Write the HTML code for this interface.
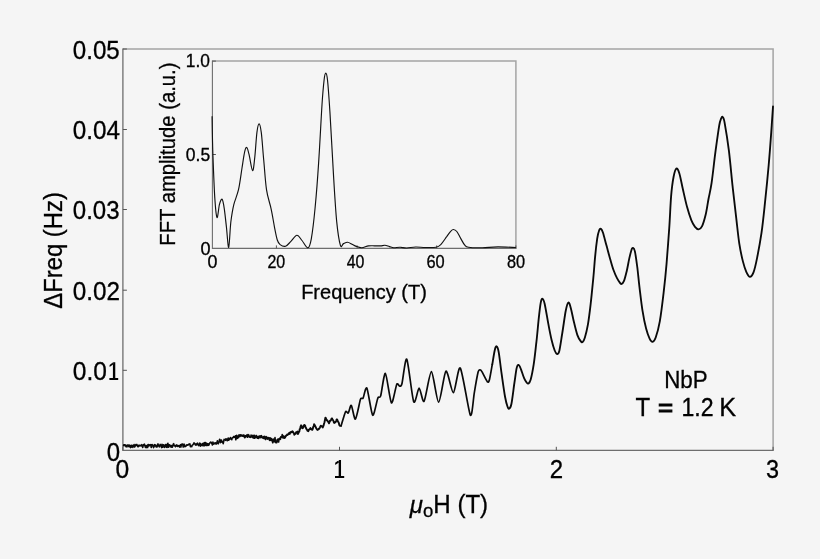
<!DOCTYPE html>
<html><head><meta charset="utf-8"><title>NbP</title>
<style>
html,body{margin:0;padding:0;background:#f5f5f5;}
body{width:820px;height:559px;overflow:hidden;font-family:"Liberation Sans",sans-serif;}
svg{display:block;will-change:transform;opacity:0.999}
text{font-family:"Liberation Sans",sans-serif;fill:#000;stroke:#000;stroke-width:0.3px;}
</style></head><body>
<svg width="820" height="559" viewBox="0 0 820 559">
<rect width="820" height="559" fill="#f5f5f5"/>
<!-- main frame -->
<path d="M122.9,49.0H773.1V450.4" fill="none" stroke="#a4a4a4" stroke-width="1.5"/>
<path d="M122.9,48.5V450.4H773.6" fill="none" stroke="#6e6e6e" stroke-width="1.3"/>
<g stroke="#555" stroke-width="1" fill="none">
<path d="M122.9,49h4M122.9,129.5h4M122.9,209.5h4M122.9,290.2h4M122.9,370.3h4"/>
<path d="M339.5,450.4v-3.6M556.3,450.4v-3.6M773.1,450.4v-3.6M122.9,450.4v-3.6"/>
</g>
<!-- inset frame -->
<path d="M212.4,61.1H515.9V248.4" fill="none" stroke="#a4a4a4" stroke-width="1.5"/>
<path d="M212.4,60.6V248.4H516.4" fill="none" stroke="#6e6e6e" stroke-width="1.1"/>
<g stroke="#555" stroke-width="1" fill="none">
<path d="M212.4,154.5h3.5M212.4,61.1h3.5M276.4,248.4v-3M357.1,248.4v-3M436.7,248.4v-3M515.9,248.4v-3"/>
</g>
<!-- curves -->
<path d="M122.9,445.7 L123.4,445.7 L123.8,444.8 L124.3,444.7 L124.7,444.8 L125.2,446.0 L125.6,445.0 L126.1,446.7 L126.5,446.5 L127.0,446.8 L127.4,445.0 L127.9,445.5 L128.3,445.1 L128.8,446.6 L129.2,445.0 L129.7,446.1 L130.1,447.1 L130.5,447.6 L131.0,445.3 L131.4,447.1 L131.9,445.4 L132.3,445.5 L132.8,447.4 L133.2,445.5 L133.7,445.8 L134.1,444.6 L134.6,447.0 L135.0,445.5 L135.5,446.0 L135.9,444.5 L136.4,445.2 L136.8,444.5 L137.3,445.3 L137.7,446.6 L138.2,446.7 L138.6,445.4 L139.1,445.4 L139.5,445.9 L140.0,445.2 L140.4,445.6 L140.9,445.9 L141.3,445.6 L141.8,444.7 L142.2,446.1 L142.7,447.5 L143.1,445.5 L143.6,444.5 L144.0,445.4 L144.5,444.2 L144.9,445.4 L145.4,447.4 L145.8,445.9 L146.3,447.6 L146.7,445.5 L147.2,445.5 L147.6,447.5 L148.1,444.5 L148.5,444.5 L149.0,446.0 L149.4,444.9 L149.9,444.7 L150.3,445.3 L150.8,444.6 L151.2,447.5 L151.7,445.8 L152.1,444.5 L152.6,445.0 L153.0,445.6 L153.5,447.6 L153.9,447.1 L154.4,445.0 L154.8,444.7 L155.3,445.9 L155.7,445.2 L156.2,446.9 L156.6,447.0 L157.1,446.9 L157.5,444.9 L158.0,443.9 L158.4,445.7 L158.9,446.2 L159.3,446.9 L159.8,445.3 L160.2,444.4 L160.7,445.7 L161.1,445.7 L161.6,447.6 L162.0,444.4 L162.5,447.2 L162.9,446.6 L163.4,444.7 L163.8,445.2 L164.3,447.4 L164.7,445.4 L165.2,446.5 L165.6,444.5 L166.1,447.1 L166.5,444.6 L167.0,447.4 L167.4,445.2 L167.9,443.3 L168.3,447.2 L168.8,447.0 L169.2,444.8 L169.7,445.0 L170.1,446.0 L170.6,445.5 L171.0,447.1 L171.5,445.6 L171.9,447.1 L172.4,447.1 L172.8,445.8 L173.3,444.1 L173.7,443.7 L174.2,445.6 L174.6,445.9 L175.1,445.8 L175.5,446.7 L176.0,445.9 L176.4,444.9 L176.9,445.7 L177.3,446.5 L177.8,445.4 L178.2,445.6 L178.7,446.3 L179.1,445.7 L179.6,447.1 L180.0,446.8 L180.5,444.7 L180.9,447.0 L181.4,444.3 L181.8,444.2 L182.3,444.5 L182.7,444.2 L183.2,447.0 L183.6,445.0 L184.1,444.2 L184.5,446.3 L185.0,446.7 L185.4,446.0 L185.9,446.1 L186.3,445.1 L186.8,444.9 L187.2,444.9 L187.7,445.2 L188.1,445.0 L188.6,444.6 L189.0,444.0 L189.5,444.4 L189.9,443.9 L190.4,446.7 L190.8,446.1 L191.3,446.4 L191.7,446.7 L192.2,445.3 L192.6,445.1 L193.1,444.3 L193.5,444.0 L194.0,442.8 L194.4,443.6 L194.9,443.5 L195.3,444.8 L195.8,445.1 L196.2,444.1 L196.7,444.9 L197.1,443.5 L197.6,443.2 L198.0,444.1 L198.5,445.6 L198.9,444.7 L199.4,445.0 L199.8,443.0 L200.3,446.2 L200.7,443.7 L201.2,445.0 L201.6,445.0 L202.1,445.7 L202.5,443.7 L203.0,443.4 L203.4,445.6 L203.9,443.0 L204.3,445.8 L204.8,442.5 L205.2,445.4 L205.7,442.5 L206.1,443.6 L206.6,445.5 L207.0,443.6 L207.5,443.7 L207.9,445.4 L208.4,443.9 L208.8,445.3 L209.3,444.0 L209.7,442.9 L210.2,442.7 L210.6,442.1 L211.1,442.3 L211.5,443.1 L212.0,443.8 L212.4,444.9 L212.9,442.1 L213.3,444.1 L213.8,444.0 L214.2,443.0 L214.7,443.3 L215.1,443.9 L215.6,442.8 L216.0,443.3 L216.5,443.9 L216.9,442.7 L217.4,440.7 L217.8,443.3 L218.3,443.8 L218.7,442.3 L219.2,441.6 L219.6,439.2 L220.1,440.2 L220.5,442.6 L221.0,441.8 L221.4,440.1 L221.9,441.7 L222.3,442.3 L222.8,441.7 L223.2,443.7 L223.7,441.3 L224.1,439.4 L224.6,439.8 L225.0,439.8 L225.5,440.3 L225.9,438.8 L226.4,440.0 L226.8,439.2 L227.3,440.7 L227.7,439.8 L228.2,438.0 L228.6,440.2 L229.1,438.8 L229.5,439.6 L230.0,438.9 L230.4,437.5 L230.9,438.6 L231.3,439.1 L231.8,439.6 L232.2,437.9 L232.7,437.7 L233.1,437.6 L233.6,436.5 L234.0,437.1 L234.5,437.2 L234.9,437.4 L235.4,435.8 L235.8,439.8 L236.3,438.3 L236.7,435.4 L237.2,437.3 L237.6,438.3 L238.1,436.0 L238.5,437.5 L239.0,434.8 L239.4,436.0 L239.9,436.5 L240.3,434.8 L240.8,435.8 L241.2,434.9 L241.7,436.0 L242.1,436.1 L242.6,435.6 L243.0,435.0 L243.5,436.4 L243.9,435.0 L244.4,436.5 L244.8,437.7 L245.3,435.8 L245.7,436.9 L246.2,436.2 L246.6,435.0 L247.1,435.5 L247.5,437.2 L248.0,434.5 L248.4,435.8 L248.9,435.2 L249.3,437.1 L249.8,436.5 L250.2,437.0 L250.7,437.3 L251.1,435.0 L251.6,436.0 L252.0,436.2 L252.5,437.6 L252.9,435.3 L253.4,437.5 L253.8,438.2 L254.3,435.2 L254.7,438.1 L255.2,436.6 L255.6,437.7 L256.1,435.6 L256.5,435.5 L257.0,437.5 L257.4,438.2 L257.9,436.8 L258.3,438.4 L258.8,436.3 L259.2,436.2 L259.7,437.8 L260.1,435.7 L260.6,437.6 L261.0,436.4 L261.5,435.7 L261.9,437.3 L262.4,438.0 L262.8,437.5 L263.3,436.8 L263.7,438.4 L264.2,436.2 L264.6,438.4 L265.1,437.1 L265.5,439.5 L266.0,436.5 L266.4,437.9 L266.9,437.3 L267.3,439.2 L267.8,437.5 L268.2,437.9 L268.7,437.7 L269.1,439.6 L269.6,440.3 L270.0,437.7 L270.5,438.5 L270.9,440.4 L271.4,438.5 L271.8,440.7 L272.3,440.2 L272.7,442.8 L273.2,439.0 L273.6,439.4 L274.1,441.8 L274.5,441.1 L275.0,437.5 L275.4,442.1 L275.9,442.6 L276.3,441.1 L276.8,442.6 L277.2,439.5 L277.7,440.2 L278.1,439.1 L278.6,442.0 L279.0,439.7 L279.5,438.4 L279.9,438.0 L280.4,439.3 L280.8,436.7 L281.3,437.4 L281.7,437.3 L282.2,434.6 L282.6,435.4 L283.1,437.9" fill="none" stroke="#0a0a0a" stroke-width="1.6" stroke-linejoin="round"/>
<path d="M283.1,437.9 L283.5,436.1 L284.0,436.3 L284.4,438.1 L284.9,437.7 L285.3,437.0 L285.8,436.3 L286.2,435.5 L286.7,435.4 L287.1,434.6 L287.6,435.0 L288.0,434.5 L288.5,434.0 L288.9,433.1 L289.4,433.0 L289.8,433.9 L290.3,432.2 L290.7,432.4 L291.2,431.7 L291.6,432.2 L292.1,431.9 L292.5,431.3 L293.0,431.9 L293.4,432.8 L293.9,433.1 L294.3,434.8 L294.8,434.1 L295.2,433.7 L295.7,433.7 L296.1,432.2 L296.6,432.7 L297.0,432.6 L297.5,431.5 L297.9,434.1 L298.4,433.0 L298.8,431.9 L299.3,431.6 L299.7,429.1 L300.2,428.9 L300.6,426.5 L301.1,425.3 L301.5,425.8 L302.0,427.8 L302.4,428.2 L302.9,428.1 L303.3,427.4 L303.8,425.6 L304.2,425.0 L304.7,425.2 L305.1,425.6 L305.6,427.1 L306.0,428.0 L306.5,429.1 L306.9,429.5 L307.4,430.7 L307.8,430.2 L308.3,431.2 L308.7,429.7 L309.2,429.8 L309.6,429.2 L310.1,428.7 L310.5,428.0 L311.0,429.2 L311.4,429.0 L311.9,429.8 L312.3,429.8 L312.8,428.8 L313.2,426.9 L313.7,426.3 L314.1,424.1 L314.6,425.1 L315.0,425.7 L315.5,426.6 L315.9,427.7 L316.4,428.5 L316.8,429.1 L317.3,429.8 L317.7,430.0 L318.2,429.4 L318.6,428.8 L319.1,428.9 L319.5,428.3 L320.0,427.4 L320.4,426.3 L320.9,425.7 L321.3,426.1 L321.8,426.2 L322.2,426.8 L322.7,427.5 L323.1,426.7 L323.6,425.4 L324.0,423.8 L324.5,422.2 L324.9,420.2 L325.4,417.6 L325.8,418.0 L326.3,419.2 L326.7,420.1 L327.2,420.1 L327.6,421.3 L328.1,421.4 L328.5,422.4 L329.0,423.3 L329.4,422.4 L329.9,420.8 L330.3,420.9 L330.8,420.3 L331.2,419.5 L331.7,418.4 L332.1,418.5 L332.6,419.8 L333.0,420.1 L333.5,421.1 L333.9,422.6 L334.4,422.9 L334.8,422.5 L335.3,422.4 L335.7,421.9 L336.2,420.8 L336.6,419.5 L337.1,419.4 L337.5,420.3 L338.0,421.7 L338.4,422.0 L338.9,423.2 L339.3,425.0 L339.8,425.7 L340.2,425.9 L340.7,425.9 L341.1,425.8" fill="none" stroke="#0a0a0a" stroke-width="1.9" stroke-linejoin="round" stroke-linecap="round"/>
<path d="M341.1,425.8C341.7,424.0 344.6,413.5 345.5,411.8C346.4,410.2 347.6,413.8 348.3,413.0C349.1,412.1 350.4,404.5 351.3,405.3C352.2,406.0 354.2,419.8 355.4,419.1C356.6,418.4 359.5,402.2 360.4,399.5C361.4,396.8 362.3,399.5 363.1,398.1C363.9,396.6 365.7,385.9 366.9,388.1C368.1,390.3 371.3,413.9 372.7,415.2C374.0,416.5 376.8,400.7 377.8,398.2C378.9,395.8 379.8,398.9 380.7,395.8C381.7,392.6 384.0,372.5 385.4,373.4C386.7,374.2 390.0,401.4 391.4,402.8C392.8,404.2 395.7,386.6 396.7,384.5C397.8,382.4 399.0,386.3 399.7,386.2C400.3,386.1 401.1,387.0 402.0,383.5C402.9,380.1 405.3,356.9 406.8,359.2C408.3,361.5 412.1,398.0 413.7,401.7C415.3,405.4 417.8,388.3 419.1,388.2C420.4,388.2 422.6,403.3 424.1,401.2C425.7,399.1 429.6,371.5 431.4,371.6C433.2,371.8 436.8,402.2 438.6,402.1C440.5,402.1 444.1,372.4 445.9,371.2C447.8,370.0 451.6,393.1 453.4,392.7C455.2,392.3 458.2,365.3 460.3,368.1C462.5,370.9 468.6,411.9 470.3,415.0C472.1,418.2 473.3,398.3 474.3,392.8C475.2,387.3 477.4,374.9 478.1,372.0C478.9,369.1 479.7,370.0 480.1,369.9C480.6,369.9 481.0,370.1 481.9,371.6C482.8,373.1 486.4,380.8 487.4,381.8C488.3,382.8 488.9,381.7 489.5,379.5C490.1,377.3 491.9,366.3 492.3,364.4" fill="none" stroke="#0a0a0a" stroke-width="1.7" stroke-linejoin="round" stroke-linecap="round"/>
<path d="M492.3,364.4C492.7,362.1 494.0,353.5 494.7,350.5C495.4,347.5 495.9,346.1 496.5,346.3C497.1,346.5 497.8,347.0 498.6,351.6C499.5,356.2 500.5,366.1 501.6,373.7C502.7,381.3 504.1,391.6 505.1,397.0C506.1,402.4 506.7,404.4 507.4,406.3C508.1,408.2 508.4,409.0 509.1,408.6C509.8,408.2 510.5,408.3 511.4,404.0C512.3,399.7 513.5,389.0 514.4,383.0C515.3,377.0 516.0,370.9 516.7,367.9C517.4,364.9 517.9,364.7 518.6,364.9C519.3,365.1 520.0,366.9 520.9,369.1C521.8,371.4 523.2,376.1 524.2,378.4C525.2,380.6 526.0,381.8 526.7,382.6C527.4,383.5 527.7,384.0 528.4,383.5C529.1,383.0 529.8,382.7 530.7,379.5C531.6,376.3 532.7,370.8 533.7,364.4C534.7,358.0 535.6,348.9 536.5,341.2C537.4,333.4 538.1,324.3 538.8,317.9C539.5,311.5 540.1,306.0 540.7,302.8C541.3,299.6 541.9,298.6 542.6,298.8C543.3,299.0 543.8,300.0 544.7,304.0C545.6,308.0 547.0,316.6 548.1,322.6C549.2,328.6 550.5,335.4 551.6,340.0C552.7,344.6 553.8,348.2 554.7,350.5C555.6,352.8 556.2,353.9 557.0,354.0C557.8,354.1 558.4,354.4 559.3,350.9C560.2,347.4 561.2,339.6 562.3,333.0C563.4,326.4 564.7,316.1 565.7,311.0C566.7,305.9 567.5,303.0 568.4,302.6C569.3,302.2 570.0,305.1 570.9,308.4C571.8,311.7 572.9,317.9 574.0,322.3C575.1,326.8 576.3,332.0 577.4,335.1C578.5,338.2 579.6,339.7 580.5,340.9C581.4,342.1 581.9,342.7 582.6,342.1C583.3,341.5 584.0,340.3 584.9,337.4C585.8,334.5 586.9,330.3 587.9,324.7C588.9,319.1 589.8,311.5 590.7,303.7C591.6,295.9 592.5,286.2 593.3,278.1C594.1,270.0 594.6,261.5 595.3,254.9C595.9,248.3 596.6,242.7 597.2,238.6C597.8,234.5 598.5,232.1 599.1,230.5C599.7,228.9 600.2,228.4 600.9,228.8C601.5,229.2 602.1,230.0 603.0,232.8C603.9,235.6 605.3,241.3 606.5,245.6C607.7,249.9 608.8,254.3 610.0,258.4C611.2,262.5 612.3,266.7 613.5,270.0C614.7,273.3 615.9,276.0 617.0,278.1C618.1,280.2 619.2,281.8 620.0,282.8C620.8,283.8 620.9,284.3 621.6,284.0C622.3,283.7 623.1,283.0 624.0,280.9C624.9,278.8 625.8,274.9 626.7,271.2C627.6,267.4 628.5,261.9 629.3,258.4C630.1,254.9 630.8,251.9 631.4,250.2C632.0,248.4 632.4,247.7 633.0,247.9C633.6,248.1 634.2,248.3 634.9,251.4C635.6,254.5 636.4,260.5 637.2,266.5C638.0,272.5 638.6,280.0 639.5,287.4C640.4,294.8 641.4,303.8 642.5,310.7C643.6,317.6 644.9,324.0 646.1,328.6C647.3,333.2 648.5,336.4 649.6,338.6C650.7,340.8 651.5,342.0 652.5,341.8C653.5,341.6 654.5,340.9 655.7,337.5C656.9,334.1 658.5,328.8 659.8,321.4C661.1,314.0 662.5,302.4 663.6,292.9C664.7,283.4 665.6,275.0 666.5,264.3C667.4,253.6 668.4,239.9 669.2,228.6C670.0,217.3 670.4,205.0 671.1,196.4C671.8,187.8 672.7,181.4 673.6,176.8C674.5,172.2 675.5,169.2 676.4,168.6C677.3,168.0 678.2,169.8 679.3,173.2C680.4,176.6 681.6,183.7 682.9,189.3C684.2,195.0 685.7,201.9 687.1,207.1C688.5,212.3 690.1,217.1 691.4,220.4C692.7,223.7 693.8,225.3 695.0,226.8C696.2,228.3 697.4,229.4 698.6,229.3C699.8,229.2 700.9,228.6 702.1,226.1C703.3,223.6 704.6,219.0 705.7,214.5C706.8,210.0 707.5,204.3 708.5,199.0C709.5,193.7 710.4,191.0 711.6,182.9C712.8,174.8 714.3,160.2 715.6,150.7C716.9,141.2 718.3,131.1 719.2,125.7C720.1,120.3 720.6,119.9 721.2,118.4C721.8,117.0 722.0,116.3 722.6,117.0C723.2,117.7 723.6,117.0 724.6,122.6C725.6,128.2 727.6,140.1 728.9,150.7C730.2,161.3 731.4,175.1 732.6,186.4C733.8,197.7 735.2,209.1 736.3,218.6C737.4,228.1 738.2,236.5 739.3,243.6C740.4,250.7 741.7,256.6 742.9,261.4C744.1,266.1 745.2,269.5 746.4,272.1C747.6,274.7 748.8,276.8 750.0,276.8C751.2,276.8 752.4,275.2 753.6,272.1C754.8,269.0 755.8,264.4 757.1,257.9C758.4,251.4 760.1,242.4 761.5,232.9C762.9,223.4 764.0,212.0 765.2,200.7C766.4,189.4 767.7,176.3 768.7,165.0C769.7,153.7 770.5,142.7 771.2,132.9C771.9,123.2 772.7,110.9 773.0,106.5" fill="none" stroke="#0a0a0a" stroke-width="1.85" stroke-linejoin="round" stroke-linecap="round"/>
<path d="M212.1,116.3C212.2,122.7 212.4,140.8 212.9,154.4C213.4,168.0 214.1,187.4 214.8,197.9C215.5,208.4 216.2,216.4 217.0,217.5C217.8,218.6 218.6,207.8 219.4,204.7C220.2,201.6 221.3,198.5 222.1,199.2C222.9,199.9 223.6,204.0 224.3,208.8C225.0,213.6 225.8,221.4 226.5,227.8C227.2,234.2 228.0,248.3 228.7,247.4C229.4,246.5 230.0,229.4 230.8,222.3C231.7,215.2 232.5,210.1 233.8,204.7C235.1,199.3 237.1,195.8 238.5,189.7C239.9,183.6 241.0,174.3 242.0,168.0C243.0,161.7 243.9,155.1 244.7,151.7C245.5,148.3 246.1,146.9 246.9,147.6C247.7,148.3 248.4,151.8 249.3,155.7C250.2,159.5 251.7,170.5 252.6,170.7C253.5,170.9 254.1,163.4 254.8,157.1C255.5,150.8 256.2,138.1 256.9,132.6C257.6,127.1 258.4,123.9 259.1,123.9C259.8,123.9 260.5,126.6 261.3,132.6C262.1,138.6 262.8,150.3 263.7,159.8C264.6,169.3 265.3,181.5 266.5,189.7C267.7,197.9 269.8,202.5 271.1,208.8C272.5,215.2 273.6,222.6 274.6,227.8C275.6,233.0 276.4,237.2 277.3,240.0C278.2,242.8 278.7,243.5 280.1,244.6C281.5,245.7 283.7,246.8 285.5,246.3C287.3,245.8 289.0,243.2 290.9,241.4C292.8,239.6 295.0,235.5 296.9,235.3C298.8,235.2 300.2,238.4 302.0,240.5C303.8,242.6 306.3,248.1 307.9,247.8C309.4,247.5 310.1,245.5 311.3,238.8C312.5,232.1 313.9,220.4 315.1,207.8C316.3,195.2 317.5,180.3 318.6,163.1C319.8,145.9 321.1,118.5 322.0,104.7C322.9,90.9 323.5,85.3 324.1,80.0C324.7,74.7 325.2,73.1 325.8,73.1C326.4,73.1 326.8,73.6 327.5,80.0C328.2,86.4 328.9,96.0 329.9,111.6C330.9,127.2 332.3,155.1 333.4,173.4C334.5,191.7 335.5,209.6 336.7,221.6C337.9,233.6 339.3,241.6 340.4,245.3C341.5,249.0 342.3,244.1 343.5,243.6C344.7,243.1 346.2,242.2 347.6,242.3C349.0,242.4 350.6,243.5 352.0,244.2C353.4,244.9 354.7,245.8 356.3,246.4C357.9,247.0 359.8,247.8 361.8,247.7C363.8,247.6 366.3,246.2 368.4,245.9C370.5,245.6 372.5,245.8 374.5,245.8C376.5,245.8 378.8,246.0 380.5,245.9C382.2,245.8 383.4,245.2 384.9,245.3C386.4,245.4 388.0,246.2 389.5,246.6C391.0,247.0 391.9,247.6 393.7,247.7C395.5,247.8 398.1,247.2 400.3,247.3C402.5,247.4 404.2,248.1 406.8,248.0C409.4,247.9 412.5,247.1 415.6,247.0C418.7,246.9 421.9,247.5 425.3,247.5C428.7,247.5 433.5,247.7 436.1,247.2C438.7,246.7 439.2,246.1 441.0,244.3C442.8,242.5 445.2,238.6 446.9,236.4C448.5,234.2 449.8,232.2 450.9,231.1C452.0,229.9 452.4,229.4 453.4,229.5C454.4,229.6 455.6,230.0 456.8,231.5C458.0,233.0 459.4,236.2 460.7,238.4C462.0,240.6 463.3,243.4 464.6,244.9C465.9,246.4 465.6,246.7 468.6,247.2C471.6,247.7 477.5,247.8 482.4,247.7C487.3,247.6 492.5,246.9 498.1,246.9C503.7,246.9 512.9,247.4 515.9,247.5" fill="none" stroke="#111" stroke-width="1.15" stroke-linejoin="round"/>
<!-- texts -->
<text font-size="24" transform="translate(72.79,58.99) scale(1.0056,1.0529)">0.05</text>
<text font-size="24" transform="translate(72.79,138.99) scale(1.0111,1.0529)">0.04</text>
<text font-size="24" transform="translate(72.80,218.99) scale(1.0011,1.0529)">0.03</text>
<text font-size="24" transform="translate(72.79,299.84) scale(1.0112,1.0529)">0.02</text>
<text font-size="24" transform="translate(72.78,379.79) scale(1.0222,1.0529)">0.0</text>
<text font-size="24" transform="translate(106.70,460.54) scale(1.0000,1.0529)">0</text>
<text font-size="24" transform="translate(115.47,477.74) scale(1.0261,1.0529)">0</text>
<text font-size="24" transform="translate(549.75,478.00) scale(1.0000,1.0746)">2</text>
<text font-size="24" transform="translate(766.02,477.74) scale(0.9778,1.0588)">3</text>
<text font-size="24" transform="translate(664.14,387.65) scale(0.9310,0.9943)">NbP</text>
<text font-size="24" transform="translate(635.50,415.90) scale(1.0000,1.0727)">T</text>
<text font-size="24" style="stroke-width:1px" transform="translate(657.95,415.90) scale(1.0783,1.0727)">=</text>
<text font-size="24" transform="translate(681.51,415.90) scale(0.9639,1.0727)">1.2</text>
<text font-size="24" transform="translate(719.19,415.90) scale(1.0545,1.0727)">K</text>
<text font-size="17" transform="translate(185.82,67.04) scale(1.0207,1.0417)">1.0</text>
<text font-size="17" transform="translate(185.83,161.24) scale(1.0292,1.0417)">0.5</text>
<text font-size="17" transform="translate(200.60,254.74) scale(1.0625,1.0333)">0</text>
<text font-size="17" transform="translate(207.51,267.93) scale(1.0500,1.0667)">0</text>
<text font-size="17" transform="translate(267.39,267.93) scale(0.9429,1.0667)">20</text>
<text font-size="17" transform="translate(346.73,267.93) scale(0.9352,1.0667)">40</text>
<text font-size="17" transform="translate(426.48,267.93) scale(0.9657,1.0667)">60</text>
<text font-size="17" transform="translate(506.88,267.93) scale(0.9600,1.0667)">80</text>
<text font-size="20" transform="translate(301.15,298.90) scale(1.0008,1.0400)">Frequency (T)</text>
<text font-size="24" transform="translate(409.80,512.70) scale(1.0039,1.0364)"><tspan font-style="italic">μ</tspan><tspan font-size="18.5" dy="4.6">o</tspan><tspan dy="-4.6">H (T)</tspan></text>
<text font-size="24" transform="translate(62.00,308.75) rotate(-90) scale(0.9935,1.0606)">ΔFreq (Hz)</text>
<text font-size="20" transform="translate(175.20,245.67) rotate(-90) scale(1.0127,1.0618)">FFT amplitude (a.u.)</text>
<path d="M112.92,362.15h2.35V380.05h-2.35z M109.40,378.11h8.80v1.94h-8.80z M113.12,362.15L109.60,364.91v2.15L113.12,364.60z" fill="#000"/>
<path d="M338.68,460.10h2.35V478.00h-2.35z M335.00,476.06h9.20v1.94h-9.20z M338.88,460.10L335.20,462.86v2.15L338.88,462.55z" fill="#000"/>
</svg>
</body></html>
